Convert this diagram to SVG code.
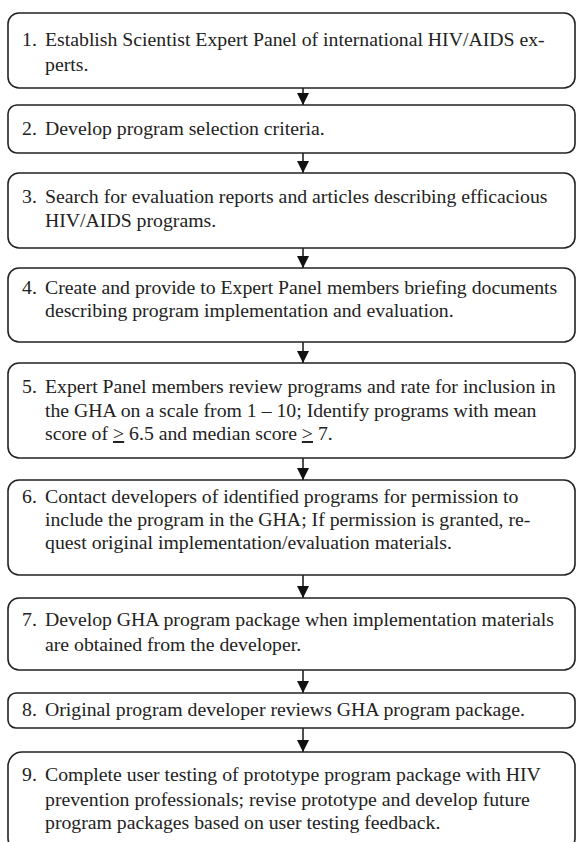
<svg xmlns="http://www.w3.org/2000/svg" width="578" height="842" viewBox="0 0 578 842">
<defs>
<style>
.box{fill:#fff;stroke:#222;stroke-width:1.6}
.t{font-family:'Liberation Serif','Times New Roman',serif;font-size:19.75px;fill:#222}
.c{stroke:#222;stroke-width:1.6;fill:none}
</style>
<marker id="ah" viewBox="0 0 12 12" refX="12" refY="6" markerWidth="12" markerHeight="12" markerUnits="userSpaceOnUse" orient="auto">
<path d="M0,0 L12,6 L0,12 Z" fill="#111"/>
</marker>
</defs>
<rect width="578" height="842" fill="#fff"/>
<g id="connectors">
<line class="c" x1="303" y1="88" x2="303" y2="105" marker-end="url(#ah)"/>
<line class="c" x1="303" y1="153" x2="303" y2="173" marker-end="url(#ah)"/>
<line class="c" x1="303" y1="248" x2="303" y2="268" marker-end="url(#ah)"/>
<line class="c" x1="303" y1="342" x2="303" y2="363" marker-end="url(#ah)"/>
<line class="c" x1="303" y1="458" x2="303" y2="480" marker-end="url(#ah)"/>
<line class="c" x1="303" y1="575" x2="303" y2="598" marker-end="url(#ah)"/>
<line class="c" x1="303" y1="670" x2="303" y2="693" marker-end="url(#ah)"/>
<line class="c" x1="303" y1="728" x2="303" y2="752" marker-end="url(#ah)"/>
</g>
<g id="n1"><rect class="box" x="8" y="13" width="567" height="75" rx="11"/>
<text class="t" x="22" y="46">1.</text><text class="t" x="45" y="46">Establish Scientist Expert Panel of international HIV/AIDS ex-</text>
<text class="t" x="45" y="71">perts.</text></g>
<g id="n2"><rect class="box" x="8" y="105" width="567" height="48" rx="9"/>
<text class="t" x="22" y="135">2.</text><text class="t" x="45" y="135">Develop program selection criteria.</text></g>
<g id="n3"><rect class="box" x="8" y="173" width="567" height="75" rx="11"/>
<text class="t" x="22" y="203">3.</text><text class="t" x="45" y="203">Search for evaluation reports and articles describing efficacious</text>
<text class="t" x="45" y="227">HIV/AIDS programs.</text></g>
<g id="n4"><rect class="box" x="8" y="268" width="567" height="74" rx="11"/>
<text class="t" x="22" y="294">4.</text><text class="t" x="45" y="294">Create and provide to Expert Panel members briefing documents</text>
<text class="t" x="45" y="317">describing program implementation and evaluation.</text></g>
<g id="n5"><rect class="box" x="8" y="363" width="567" height="95" rx="11"/>
<text class="t" x="22" y="393">5.</text><text class="t" x="45" y="393">Expert Panel members review programs and rate for inclusion in</text>
<text class="t" x="45" y="417">the GHA on a scale from 1 – 10; Identify programs with mean</text>
<text class="t" x="45" y="440">score of <tspan text-decoration="underline">&gt;</tspan> 6.5 and median score <tspan text-decoration="underline">&gt;</tspan> 7.</text></g>
<g id="n6"><rect class="box" x="8" y="480" width="567" height="95" rx="11"/>
<text class="t" x="22" y="503">6.</text><text class="t" x="45" y="503">Contact developers of identified programs for permission to</text>
<text class="t" x="45" y="526">include the program in the GHA; If permission is granted, re-</text>
<text class="t" x="45" y="549">quest original implementation/evaluation materials.</text></g>
<g id="n7"><rect class="box" x="8" y="598" width="567" height="72" rx="11"/>
<text class="t" x="22" y="626">7.</text><text class="t" x="45" y="626">Develop GHA program package when implementation materials</text>
<text class="t" x="45" y="651">are obtained from the developer.</text></g>
<g id="n8"><rect class="box" x="8" y="693" width="567" height="35" rx="8"/>
<text class="t" x="22" y="716">8.</text><text class="t" x="45" y="716">Original program developer reviews GHA program package.</text></g>
<g id="n9"><rect class="box" x="8" y="752" width="567" height="100" rx="14"/>
<text class="t" x="22" y="781">9.</text><text class="t" x="45" y="781">Complete user testing of prototype program package with HIV</text>
<text class="t" x="45" y="806">prevention professionals; revise prototype and develop future</text>
<text class="t" x="45" y="829">program packages based on user testing feedback.</text></g>
</svg>
